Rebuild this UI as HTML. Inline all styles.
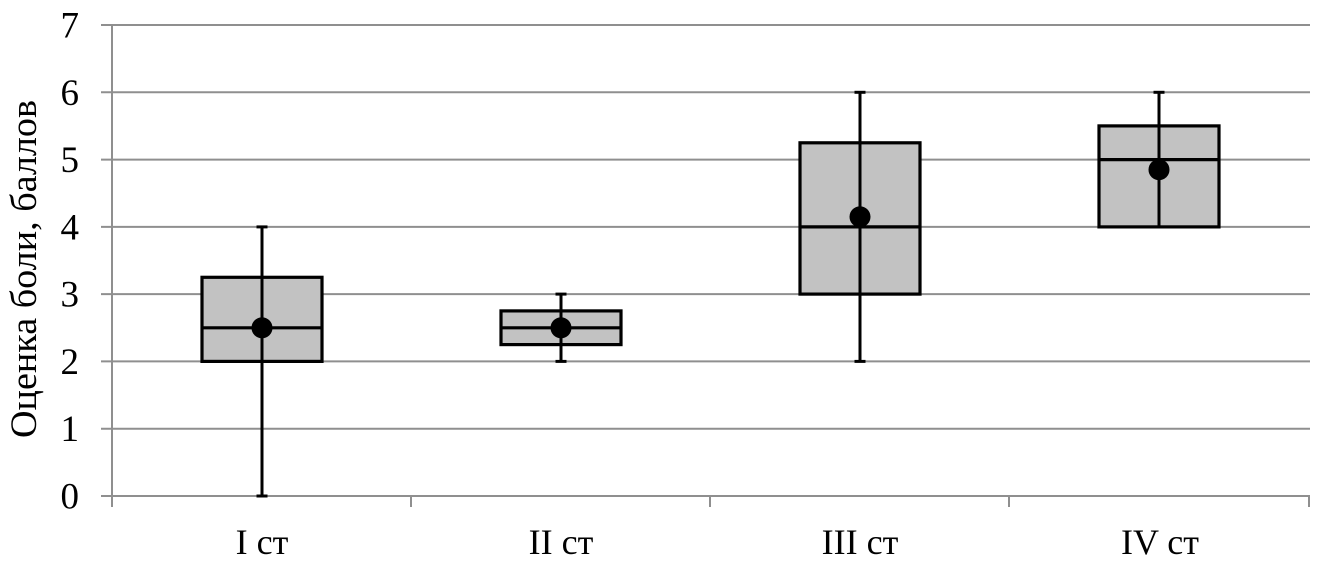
<!DOCTYPE html>
<html>
<head>
<meta charset="utf-8">
<style>
  html, body { margin: 0; padding: 0; background: #ffffff; }
  svg { display: block; }
  text { font-family: "Liberation Serif", "Noto Serif CJK SC", serif; fill: #000; }
</style>
</head>
<body>
<svg width="1322" height="566" viewBox="0 0 1322 566" xmlns="http://www.w3.org/2000/svg">
  <!-- gridlines -->
  <g stroke="#8f8f8f" stroke-width="2">
    <line x1="101" y1="25" x2="1310" y2="25"/>
    <line x1="101" y1="92.3" x2="1310" y2="92.3"/>
    <line x1="101" y1="159.6" x2="1310" y2="159.6"/>
    <line x1="101" y1="226.9" x2="1310" y2="226.9"/>
    <line x1="101" y1="294.1" x2="1310" y2="294.1"/>
    <line x1="101" y1="361.4" x2="1310" y2="361.4"/>
    <line x1="101" y1="428.7" x2="1310" y2="428.7"/>
    <line x1="101" y1="496" x2="1310" y2="496"/>
    <!-- y axis -->
    <line x1="112" y1="25" x2="112" y2="507"/>
    <!-- category ticks -->
    <line x1="411" y1="496" x2="411" y2="507"/>
    <line x1="710" y1="496" x2="710" y2="507"/>
    <line x1="1009" y1="496" x2="1009" y2="507"/>
    <line x1="1309" y1="496" x2="1309" y2="507"/>
  </g>

  <!-- y tick labels -->
  <g font-size="37" text-anchor="end">
    <text x="79" y="37.5">7</text>
    <text x="79" y="104.8">6</text>
    <text x="79" y="172.1">5</text>
    <text x="79" y="239.4">4</text>
    <text x="79" y="306.6">3</text>
    <text x="79" y="373.9">2</text>
    <text x="79" y="441.2">1</text>
    <text x="79" y="508.5">0</text>
  </g>

  <!-- y axis title -->
  <text font-size="37" text-anchor="middle" transform="translate(36,269) rotate(-90)" textLength="338" lengthAdjust="spacingAndGlyphs">Оценка боли, баллов</text>

  <!-- category labels -->
  <g font-size="36" text-anchor="middle">
    <text x="262" y="554">I ст</text>
    <text x="561" y="554">II ст</text>
    <text x="860" y="554">III ст</text>
    <text x="1160" y="554">IV ст</text>
  </g>

  <!-- Boxes -->
  <g fill="#c2c2c2" stroke="#000" stroke-width="3.2">
    <rect x="202" y="277.3" width="120" height="84.1"/>
    <rect x="501" y="310.9" width="120" height="33.7"/>
    <rect x="800" y="142.8" width="120" height="151.3"/>
    <rect x="1099" y="125.9" width="120" height="101"/>
  </g>

  <!-- Whiskers -->
  <g stroke="#000" stroke-width="3">
    <line x1="262" y1="226.9" x2="262" y2="496"/>
    <line x1="256.5" y1="226.9" x2="267.5" y2="226.9"/>
    <line x1="256.5" y1="496" x2="267.5" y2="496"/>
    <line x1="561" y1="294.1" x2="561" y2="361.4"/>
    <line x1="555.5" y1="294.1" x2="566.5" y2="294.1"/>
    <line x1="555.5" y1="361.4" x2="566.5" y2="361.4"/>
    <line x1="860" y1="92.3" x2="860" y2="361.4"/>
    <line x1="854.5" y1="92.3" x2="865.5" y2="92.3"/>
    <line x1="854.5" y1="361.4" x2="865.5" y2="361.4"/>
    <line x1="1159" y1="92.3" x2="1159" y2="226.9"/>
    <line x1="1153.5" y1="92.3" x2="1164.5" y2="92.3"/>
  </g>

  <!-- Medians -->
  <g stroke="#000" stroke-width="3.2">
    <line x1="202" y1="327.8" x2="322" y2="327.8"/>
    <line x1="501" y1="327.8" x2="621" y2="327.8"/>
    <line x1="800" y1="226.9" x2="920" y2="226.9"/>
    <line x1="1099" y1="159.6" x2="1219" y2="159.6"/>
  </g>

  <!-- Means -->
  <g fill="#000">
    <circle cx="262" cy="327.8" r="10.5"/>
    <circle cx="561" cy="327.8" r="10.5"/>
    <circle cx="860" cy="216.8" r="10.5"/>
    <circle cx="1159" cy="169.7" r="10.5"/>
  </g>
</svg>
</body>
</html>
